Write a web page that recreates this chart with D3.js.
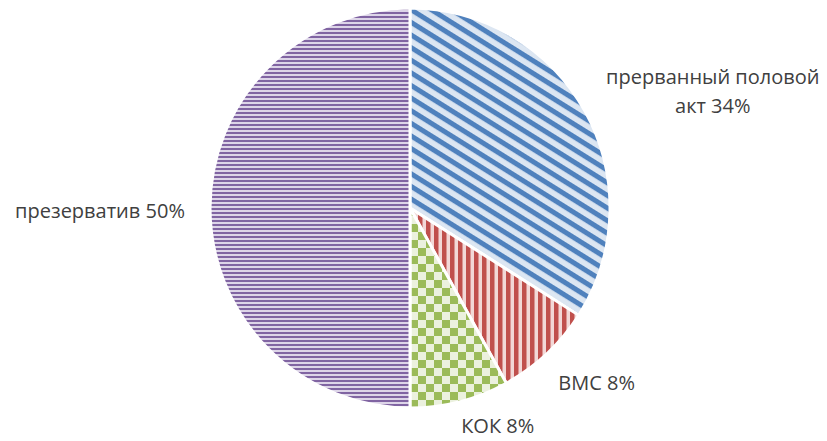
<!DOCTYPE html>
<html>
<head>
<meta charset="utf-8">
<script src="https://cdn.jsdelivr.net/npm/d3@7"></script>
<style>
  body { margin: 0; background: #fff; }
  text { font-family: "Open Sans", sans-serif; fill: #404040; }
</style>
</head>
<body>
<svg id="chart" width="827" height="441"></svg>
<script>
// slices, clockwise from 12 o'clock
let categories = ["прерванный половой акт", "ВМС", "КОК", "презерватив"]
let values = [34, 8, 8, 50]
let labelLines = [["прерванный половой", "акт 34%"], ["ВМС 8%"], ["КОК 8%"], ["презерватив 50%"]]

// pattern fills (ids match slice order)
var patternIds = ["pBlue", "pRed", "pGreen", "pPurple"]
// label shift from centroid (px) - excel "best fit" puts them by hand
var labelShift = [[110, -11], [36, 15], [33, 5], [-90, 3]]

var width = 827, height = 441
var cx = 410, cy = 208, radius = 200

var svg = d3.select("#chart")
var defs = svg.append("defs")

// blue wide downward diagonal
var pb = defs.append("pattern")
  .attr("id", "pBlue").attr("patternUnits", "userSpaceOnUse")
  .attr("width", 10).attr("height", 10.7)
  .attr("patternTransform", "rotate(32)")
pb.append("rect").attr("width", 10).attr("height", 10.7).attr("fill", "#dce6f2")
pb.append("rect").attr("width", 10).attr("height", 5).attr("fill", "#4f81bd")

// red vertical stripes
var pr = defs.append("pattern")
  .attr("id", "pRed").attr("patternUnits", "userSpaceOnUse")
  .attr("width", 8).attr("height", 8)
pr.append("rect").attr("width", 8).attr("height", 8).attr("fill", "#f2d8d7")
pr.append("rect").attr("width", 4.5).attr("height", 8).attr("fill", "#c0504d")

// green checkerboard
var pg = defs.append("pattern")
  .attr("id", "pGreen").attr("patternUnits", "userSpaceOnUse")
  .attr("width", 16).attr("height", 16)
pg.append("rect").attr("width", 16).attr("height", 16).attr("fill", "#ebf1de")
pg.append("rect").attr("width", 8).attr("height", 8).attr("fill", "#9bbb59")
pg.append("rect").attr("x", 8).attr("y", 8).attr("width", 8).attr("height", 8).attr("fill", "#9bbb59")

// purple narrow horizontal
var pp = defs.append("pattern")
  .attr("id", "pPurple").attr("patternUnits", "userSpaceOnUse")
  .attr("width", 8).attr("height", 4)
pp.append("rect").attr("width", 8).attr("height", 4).attr("fill", "#ddd5e8")
pp.append("rect").attr("width", 8).attr("height", 2).attr("fill", "#8064a2")

var pie = d3.pie().sort(null).value(d => d)
var arcs = pie(values)

var arc = d3.arc().innerRadius(0).outerRadius(radius)

var g = svg.append("g").attr("transform", `translate(${cx},${cy})`)

g.selectAll("path.slice")
  .data(arcs)
  .enter()
  .append("path")
  .attr("class", "slice")
  .attr("d", arc)
  .attr("fill", (d, i) => `url(#${patternIds[i]})`)
  .attr("stroke", "#fff")
  .attr("stroke-width", 3)
  .attr("stroke-linejoin", "round")

var labelArc = d3.arc().innerRadius(radius * 1.1).outerRadius(radius * 1.1)

var labels = g.selectAll("text.lbl")
  .data(arcs)
  .enter()
  .append("text")
  .attr("class", "lbl")
  .attr("text-anchor", "middle")
  .attr("font-size", 20)
  .attr("transform", (d, i) => {
    let c = labelArc.centroid(d)
    return `translate(${c[0] + labelShift[i][0]},${c[1] + labelShift[i][1]})`
  })

labels.each(function(d, i) {
  let lines = labelLines[i]
  let t = d3.select(this)
  lines.forEach((line, j) => {
    t.append("tspan")
      .attr("x", 0)
      .attr("y", (j - (lines.length - 1) / 2) * 29 + 7)
      .text(line)
  })
})
</script>
</body>
</html>
